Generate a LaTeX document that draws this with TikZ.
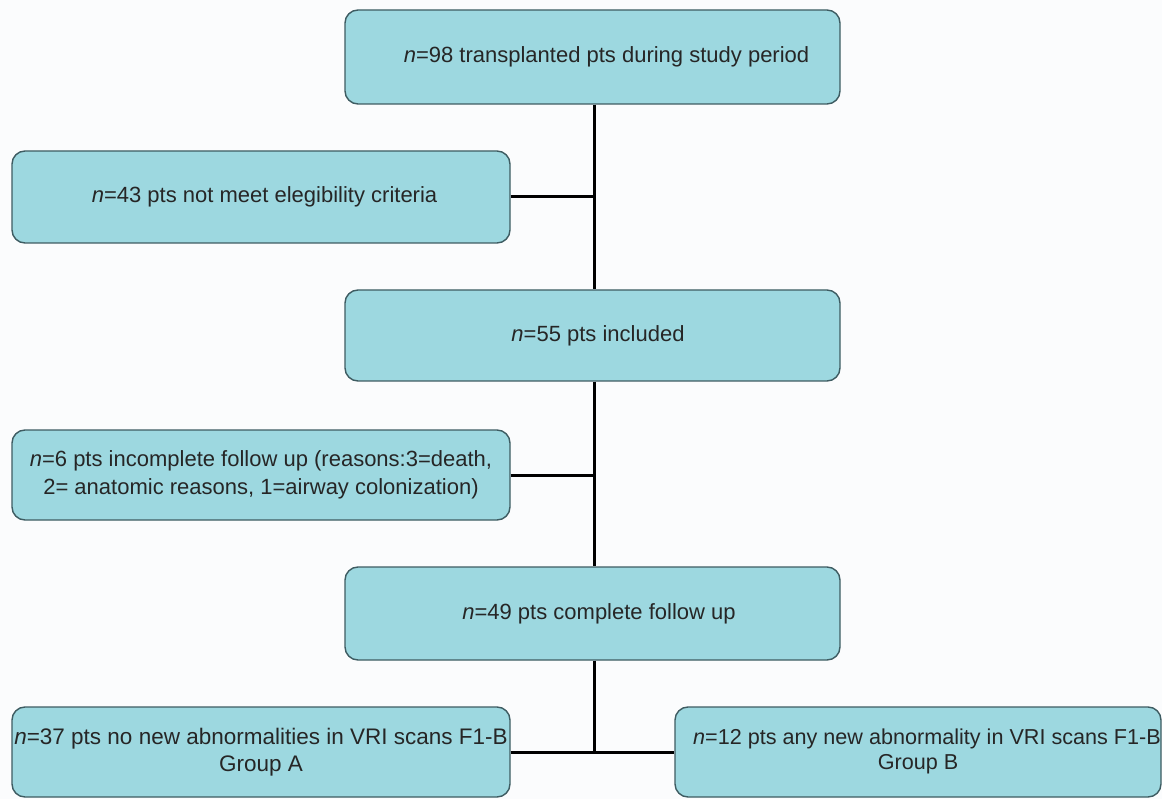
\documentclass[tikz,border=0pt]{standalone}
\usepackage{fontspec}
\setmainfont{Liberation Sans}
\definecolor{boxfill}{HTML}{9DD8E0}
\definecolor{boxline}{HTML}{3E5C62}
\definecolor{bg}{HTML}{FBFCFD}
\begin{document}
\begin{tikzpicture}[x=1pt,y=-1pt,
  box/.style={draw=boxline, line width=1.4pt, fill=boxfill, rounded corners=13pt,
    inner sep=0pt, align=center, text=black!85, font=\fontsize{22}{28}\selectfont},
  conn/.style={line width=3pt, black}]
\fill[bg] (0,0) rectangle (1162,799);
\useasboundingbox (0,0) rectangle (1162,799);
\node[box, minimum width=495pt, minimum height=94pt] (b1) at (592.5,57) {\hspace*{28pt}\textit{n}=98 transplanted pts during study period};
\node[box, minimum width=498pt, minimum height=92pt] (b2) at (261,197) {\hspace*{7pt}\textit{n}=43 pts not meet elegibility criteria};
\node[box, minimum width=495pt, minimum height=91pt] (b3) at (592.5,335.5) {\hspace*{11pt}\textit{n}=55 pts included};
\node[box, minimum width=498pt, minimum height=90pt] (b4) at (261,475) {\textit{n}=6 pts incomplete follow up (reasons:3=death,\\2= anatomic reasons, 1=airway colonization)};
\node[box, minimum width=495pt, minimum height=93pt] (b5) at (592.5,613.5) {\hspace*{13pt}\textit{n}=49 pts complete follow up};
\node[box, minimum width=498pt, minimum height=90pt, font=\fontsize{22.5}{27}\selectfont] (b6) at (261,752) {\textit{n}=37 pts no new abnormalities in VRI scans F1-B\\Group A};
\node[box, minimum width=486pt, minimum height=90pt, font=\fontsize{21.6}{25}\selectfont] (b7) at (918,752) {\raisebox{4.5pt}{\begin{tabular}{@{}c@{}}\hspace*{18pt}\textit{n}=12 pts any new abnormality in VRI scans F1-B\\Group B\end{tabular}}};
\coordinate (j1) at (594,197);
\coordinate (j2) at (594,475);
\coordinate (j3) at (594,752);
\draw[conn] (b1.south -| j1) -- (b3.north -| j1);
\draw[conn] (b2.east) -- (j1);
\draw[conn] (b3.south -| j2) -- (b5.north -| j2);
\draw[conn] (b4.east) -- (j2);
\draw[conn] (b5.south -| j3) -- (j3);
\draw[conn] (b6.east) -- (b7.west);
\end{tikzpicture}
\end{document}
